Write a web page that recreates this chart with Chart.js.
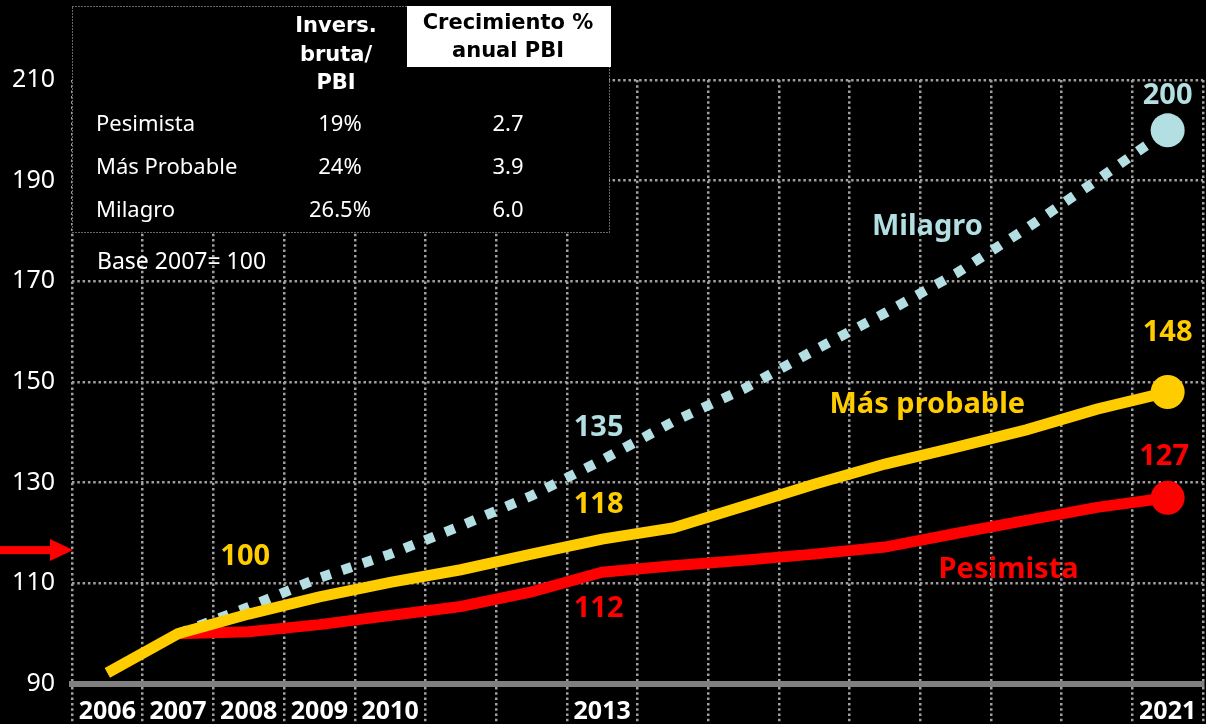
<!DOCTYPE html>
<html>
<head>
<meta charset="utf-8">
<script src="https://cdn.jsdelivr.net/npm/chart.js@4/dist/chart.umd.min.js"></script>
<style>
  html, body { margin: 0; padding: 0; background: #000; }
  #wrap { width: 1206px; height: 724px; position: relative; }
</style>
</head>
<body>
<div id="wrap"><canvas id="canvas"></canvas></div>
<script>
// years on the x axis, only some of them get a label
const years = ['2006','2007','2008','2009','2010','2011','2012','2013','2014','2015','2016','2017','2018','2019','2020','2021'];
const yearTicks = ['2006','2007','2008','2009','2010','','','2013','','','','','','','','2021'];

// index, base 2007 = 100
const masProbable = [92.2, 100, 103.9, 107.3, 110.2, 112.7, 115.8, 118.8, 121.0, 125.3, 129.7, 133.7, 137.0, 140.5, 144.6, 148];
const milagro     = [null, 100, 105.3, 111.1, 115.8, 121.4, 127.4, 134.5, 142.1, 148.6, 156.3, 163.7, 171.5, 180.5, 190.1, 200];
const pesimista   = [null, 100, 100.4, 101.8, 103.6, 105.4, 108.3, 112.2, 113.5, 114.6, 115.8, 117.2, 119.9, 122.5, 125.1, 127];

// the small table top left
const escenarios = ['Pesimista', 'Más Probable', 'Milagro'];
const inversion  = ['19%', '24%', '26.5%'];
const crecimiento = ['2.7', '3.9', '6.0'];

const YELLOW = '#FFCC00';
const RED = '#FF0000';
const CYAN = '#B3DEE2';
const GRID = '#a0a0a0';

function endDots(arr) {
    return arr.map((v, i) => i === arr.length - 1 ? 17 : 0);
}

// texts, table and arrow drawn on top of the chart
const overlay = {
    id: 'overlay',
    afterDraw(chart) {
        const ctx = chart.ctx;
        const xs = chart.scales.x, ys = chart.scales.y;
        const area = chart.chartArea;
        ctx.save();

        // red arrow on the left
        const ay = ys.getPixelForValue(116.6);
        ctx.fillStyle = RED;
        ctx.fillRect(0, ay - 4, 52, 8);
        ctx.beginPath();
        ctx.moveTo(50, ay - 11);
        ctx.lineTo(area.left + 1, ay);
        ctx.lineTo(50, ay + 11);
        ctx.closePath();
        ctx.fill();

        // series labels
        ctx.textAlign = 'center';
        ctx.textBaseline = 'middle';
        const lbl = (t, i, v, c) => {
            ctx.fillStyle = c;
            ctx.fillText(t, xs.getPixelForValue(i), ys.getPixelForValue(v));
        };
        ctx.font = 'bold 29px "Noto Sans"';
        lbl('200', 15, 206.8, CYAN);
        lbl('Milagro', 11.6, 180.8, CYAN);
        lbl('148', 15, 159.7, YELLOW);
        lbl('Más probable', 11.6, 145.4, YELLOW);
        lbl('135', 6.95, 141, CYAN);
        lbl('118', 6.95, 125.6, YELLOW);
        lbl('127', 14.95, 135.1, RED);
        lbl('Pesimista', 12.75, 112.7, RED);
        lbl('112', 6.95, 104.9, RED);
        lbl('100', 1.95, 115.2, YELLOW);

        // table box
        ctx.fillStyle = '#000';
        ctx.fillRect(72, 6, 537, 226);
        ctx.strokeStyle = '#cfcfcf';
        ctx.lineWidth = 1;
        ctx.setLineDash([1, 2]);
        ctx.strokeRect(72.5, 6.5, 537, 226);
        ctx.setLineDash([]);

        ctx.fillStyle = '#fff';
        ctx.fillRect(407, 6, 204, 61);

        ctx.font = 'bold 21px "DejaVu Sans"';
        ctx.fillStyle = '#fff';
        ctx.fillText('Invers.', 336, 27);
        ctx.fillText('bruta/', 336, 56);
        ctx.fillText('PBI', 336, 84);
        ctx.fillStyle = '#000';
        ctx.fillText('Crecimiento %', 508, 24);
        ctx.fillText('anual PBI', 508, 52);

        ctx.font = '22px "Noto Sans"';
        ctx.fillStyle = '#fff';
        const rowsY = [125, 168, 211];
        escenarios.forEach((name, i) => {
            ctx.textAlign = 'left';
            ctx.fillText(name, 96, rowsY[i]);
            ctx.textAlign = 'center';
            ctx.fillText(inversion[i], 340, rowsY[i]);
            ctx.fillText(crecimiento[i], 508, rowsY[i]);
        });

        ctx.textAlign = 'left';
        ctx.font = '23px "Noto Sans"';
        ctx.fillText('Base 2007= 100', 97, 262);
        ctx.restore();
    }
};

function createVisualization() {
    const ctx = document.getElementById('canvas').getContext('2d');

    new Chart(ctx, {
        type: 'line',
        data: {
            labels: years,
            datasets: [
                {
                    label: 'Más probable',
                    data: masProbable,
                    borderColor: YELLOW,
                    backgroundColor: YELLOW,
                    borderWidth: 11,
                    pointRadius: endDots(masProbable),
                    pointBorderWidth: 0,
                    tension: 0
                },
                {
                    label: 'Milagro',
                    data: milagro,
                    borderColor: CYAN,
                    backgroundColor: CYAN,
                    borderWidth: 10,
                    borderDash: [10, 12],
                    borderCapStyle: 'butt',
                    pointRadius: endDots(milagro),
                    pointBorderWidth: 0,
                    tension: 0
                },
                {
                    label: 'Pesimista',
                    data: pesimista,
                    borderColor: RED,
                    backgroundColor: RED,
                    borderWidth: 11,
                    pointRadius: endDots(pesimista),
                    pointBorderWidth: 0,
                    tension: 0
                }
            ]
        },
        options: {
            responsive: true,
            maintainAspectRatio: false,
            animation: false,
            layout: { autoPadding: false, padding: { top: 80, right: 3, left: 0, bottom: 0 } },
            scales: {
                x: {
                    type: 'category',
                    offset: true,
                    afterFit: s => { s.height = 40; },
                    grid: {
                        offset: true,
                        color: GRID,
                        lineWidth: 2.5,
                        drawTicks: true,
                        tickLength: 40,
                        tickColor: GRID,
                        tickWidth: 2.5,
                        tickBorderDash: [2.5, 2.8]
                    },
                    border: { display: true, color: '#808080', width: 6, dash: [2.5, 2.8] },
                    ticks: {
                        autoSkip: false,
                        maxRotation: 0,
                        padding: -27,
                        color: '#fff',
                        font: { family: 'Noto Sans', size: 25, weight: 'bold' },
                        callback: (v, i) => yearTicks[i]
                    }
                },
                y: {
                    min: 90,
                    max: 210,
                    afterFit: s => { s.width = 72; },
                    grid: {
                        color: GRID,
                        lineWidth: 2.5,
                        drawTicks: false
                    },
                    border: { display: false, dash: [2.5, 2.8] },
                    ticks: {
                        stepSize: 20,
                        padding: 17,
                        color: '#fff',
                        font: { family: 'Noto Sans', size: 25 }
                    }
                }
            },
            plugins: {
                legend: { display: false },
                tooltip: { enabled: false }
            }
        },
        plugins: [overlay]
    });
}

createVisualization();
</script>
</body>
</html>
